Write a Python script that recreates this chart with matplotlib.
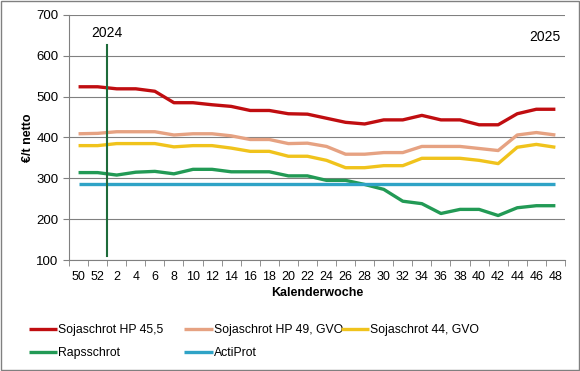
import numpy as np
import matplotlib.pyplot as plt
from matplotlib.patches import Rectangle

plt.rcParams['font.family'] = ['Liberation Sans', 'DejaVu Sans']

# Kalenderwochen (KW 50/2024 bis KW 48/2025)
wochen = ['50', '52'] + [str(w) for w in range(2, 50, 2)]

soja_hp455 = [524, 524, 519, 519, 513, 485, 485, 480, 476, 466, 466, 458, 457,
              447, 437, 433, 443, 443, 454, 443, 443, 431, 431, 458, 469, 469]
soja_hp49 = [409, 410, 414, 414, 414, 406, 409, 409, 404, 395, 395, 385, 386,
             378, 359, 359, 363, 363, 378, 378, 378, 373, 368, 406, 412, 406]
soja_44 = [380, 380, 385, 385, 385, 377, 380, 380, 374, 366, 366, 354, 354,
           344, 326, 326, 331, 331, 349, 349, 349, 344, 336, 376, 383, 376]
raps = [314, 314, 308, 315, 317, 311, 322, 322, 316, 316, 316, 306, 306,
        295, 295, 285, 273, 244, 238, 214, 224, 224, 209, 228, 233, 233]
actiprot = [287] * 26

namen = ['Sojaschrot HP 45,5', 'Sojaschrot HP 49, GVO', 'Sojaschrot 44, GVO',
         'Rapsschrot', 'ActiProt']
farben = ['#c00d10', '#e6a282', '#f0c31c', '#229a55', '#2fa3c6']

x = np.arange(len(wochen))

fig = plt.figure(figsize=(5.8, 3.71), dpi=100)
ax = fig.add_axes([0.119, 0.299, 0.855, 0.661])

linien = []
for werte, name, farbe in zip([soja_hp455, soja_hp49, soja_44, raps, actiprot], namen, farben):
    l, = ax.plot(x, werte, color=farbe, lw=2.4, label=name, solid_capstyle='butt')
    linien.append(l)

# Jahreswechsel
ax.plot([1.5, 1.5], [110, 625], color='#1e6b3a', lw=1.5)
ax.text(1.5, 655, '2024', ha='center', va='center', fontsize=10)
ax.text(24.45, 645, '2025', ha='center', va='center', fontsize=10)

ax.set_xlim(-0.5, 25.5)
ax.set_ylim(100, 700)
ax.set_yticks(range(100, 701, 100))
ax.set_xticks(x)
ax.set_xticklabels(wochen, fontsize=9)
ax.set_xticks(np.arange(-0.5, 25.6, 1), minor=True)
ax.tick_params(axis='x', which='major', length=0, pad=8)
ax.tick_params(axis='x', which='minor', length=4, color='#808080')
ax.tick_params(axis='y', labelsize=9.5, length=4, color='#808080')
ax.grid(axis='y', color='#808080', lw=0.8)
ax.set_axisbelow(True)
for s in ['top', 'right']:
    ax.spines[s].set_visible(False)
for s in ['left', 'bottom']:
    ax.spines[s].set_color('#808080')

ax.set_xlabel('Kalenderwoche', fontsize=9, fontweight='bold', labelpad=3)
ax.set_ylabel('€/t netto', fontsize=9, fontweight='bold', labelpad=2)

# Legende wie in Excel: feste Spalten
spalten = [[0, 3], [1, 4], [2]]
x_start = [0.05, 0.318, 0.588]
for idx, xs in zip(spalten, x_start):
    leg = fig.legend([linien[i] for i in idx], [namen[i] for i in idx],
                     loc='upper left', bbox_to_anchor=(xs, 0.126), frameon=False,
                     fontsize=8.8, handlelength=2.3, handletextpad=0.1,
                     labelspacing=0.9, borderaxespad=0, borderpad=0)

fig.patches.append(Rectangle((0.001, 0.002), 0.997, 0.995, transform=fig.transFigure,
                             fill=False, edgecolor='#808080', lw=1))

fig.savefig('out.png', dpi=100)
